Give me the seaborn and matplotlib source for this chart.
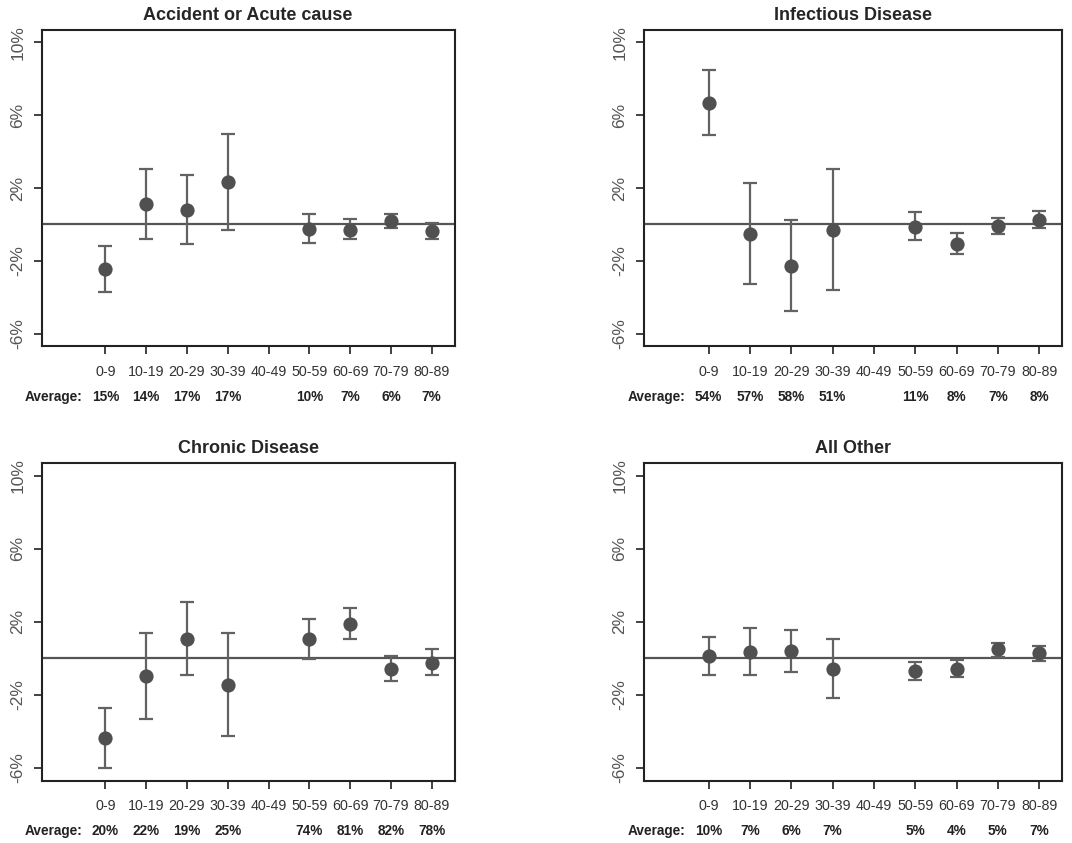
import numpy as np
import pandas as pd
import seaborn as sns
import matplotlib.pyplot as plt
import matplotlib.transforms as mtransforms

## Data (percentage points)
nan = np.nan
age_groups = ['0-9', '10-19', '20-29', '30-39', '40-49', '50-59', '60-69', '70-79', '80-89']
titles = ['Accident or Acute cause', 'Infectious Disease', 'Chronic Disease', 'All Other']

accident_est = [-2.46, 1.12, 0.81, 2.31, nan, -0.26, -0.29, 0.18, -0.37]
accident_lo = [-3.72, -0.81, -1.08, -0.28, nan, -1.01, -0.81, -0.22, -0.79]
accident_hi = [-1.21, 3.06, 2.70, 4.95, nan, 0.59, 0.29, 0.59, 0.06]
accident_avg = ['15%', '14%', '17%', '17%', '', '10%', '7%', '6%', '7%']

infect_est = [6.68, -0.53, -2.28, -0.29, nan, -0.13, -1.08, -0.11, 0.26]
infect_lo = [4.90, -3.27, -4.75, -3.61, nan, -0.88, -1.63, -0.53, -0.18]
infect_hi = [8.50, 2.26, 0.22, 3.06, nan, 0.68, -0.48, 0.37, 0.72]
infect_avg = ['54%', '57%', '58%', '51%', '', '11%', '8%', '7%', '8%']

chronic_est = [-4.39, -0.99, 1.06, -1.47, nan, 1.03, 1.85, -0.57, -0.24]
chronic_lo = [-6.02, -3.34, -0.92, -4.28, nan, -0.02, 1.03, -1.23, -0.92]
chronic_hi = [-2.73, 1.39, 3.08, 1.39, nan, 2.15, 2.73, 0.11, 0.48]
chronic_avg = ['20%', '22%', '19%', '25%', '', '74%', '81%', '82%', '78%']

other_est = [0.11, 0.35, 0.37, -0.59, nan, -0.70, -0.57, 0.48, 0.26]
other_lo = [-0.92, -0.94, -0.73, -2.20, nan, -1.19, -1.02, 0.09, -0.13]
other_hi = [1.16, 1.67, 1.52, 1.03, nan, -0.20, -0.09, 0.83, 0.66]
other_avg = ['10%', '7%', '6%', '7%', '', '5%', '4%', '5%', '7%']

panels = [
    (accident_est, accident_lo, accident_hi, accident_avg),
    (infect_est, infect_lo, infect_hi, infect_avg),
    (chronic_est, chronic_lo, chronic_hi, chronic_avg),
    (other_est, other_lo, other_hi, other_avg),
]

sns.set_theme(style='ticks')
plt.rcParams['font.family'] = ['Liberation Sans', 'DejaVu Sans']

fig = plt.figure(figsize=(10.72, 8.43), dpi=100)
boxes = [
    [0.039, 0.589, 0.385, 0.376],
    [0.601, 0.589, 0.390, 0.376],
    [0.039, 0.074, 0.385, 0.377],
    [0.601, 0.074, 0.390, 0.377],
]

pt_col = '#505050'
bar_col = '#626262'

for box, title, (est, lo, hi, avg) in zip(boxes, titles, panels):
    ax = fig.add_axes(box)
    df = pd.DataFrame({'pos': np.arange(1, len(age_groups) + 1), 'age': age_groups,
                       'est': est, 'lo': lo, 'hi': hi})
    ax.axhline(0, color='#555555', lw=1.6, zorder=1)
    ax.errorbar(df['pos'], df['est'], yerr=[df['est'] - df['lo'], df['hi'] - df['est']],
                fmt='none', ecolor=bar_col, elinewidth=1.6, capsize=4.7, capthick=1.6, zorder=2)
    sns.scatterplot(data=df.dropna(), x='pos', y='est', ax=ax, s=105, color=pt_col,
                    edgecolor=pt_col, linewidth=0, zorder=3, legend=False)

    ax.set_xlim(-0.56, 9.56)
    ax.set_ylim(-6.7, 10.7)
    ax.set_xticks(df['pos'])
    ax.set_xticklabels(age_groups, fontsize=10.3, color='#333333')
    ax.set_yticks([-6, -2, 2, 6, 10])
    ax.set_yticklabels([f'{v}%' for v in [-6, -2, 2, 6, 10]], rotation=90, va='center',
                       fontsize=12.5, color='#555555')
    ax.tick_params(axis='both', length=6, width=1.3, color='#333333')
    ax.tick_params(axis='x', pad=7.5)
    ax.tick_params(axis='y', pad=6)
    ax.set_xlabel('')
    ax.set_ylabel('')
    for sp in ax.spines.values():
        sp.set_visible(True)
        sp.set_linewidth(1.5)
        sp.set_color('#222222')
    ax.set_title(title, fontsize=13, fontweight='bold', pad=7)

    trans = mtransforms.blended_transform_factory(ax.transData, ax.transAxes)
    ax.text(0.43, -0.16, 'Average:', transform=trans, ha='right', va='center',
            fontsize=9.8, fontweight='bold', color='#222222')
    for p, a in zip(df['pos'], avg):
        ax.text(p, -0.16, a, transform=trans, ha='center', va='center',
                fontsize=9.8, fontweight='bold', color='#222222')

fig.savefig('out.png', dpi=100)
